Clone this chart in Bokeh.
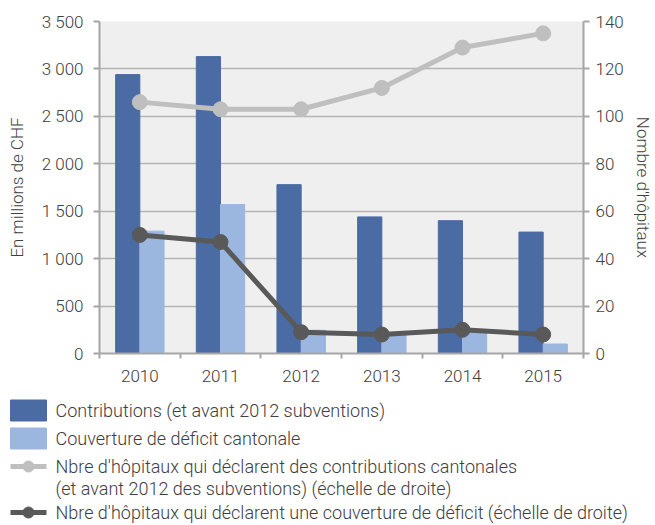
from bokeh.plotting import figure
from bokeh.models import Range1d, LinearAxis, FixedTicker
from bokeh.layouts import column
from bokeh.core.properties import value
from bokeh.embed import file_html
from bokeh.resources import INLINE

years = ["2010", "2011", "2012", "2013", "2014", "2015"]
contributions = [2940, 3130, 1780, 1440, 1400, 1280]
deficit_cover = [1290, 1570, 245, 220, 230, 100]
hosp_contrib = [106, 103, 103, 112, 129, 135]
hosp_deficit = [50, 47, 9, 8, 10, 8]
left_ticks = [0, 500, 1000, 1500, 2000, 2500, 3000, 3500]
left_tick_labels = ["0", "500", "1 000", "1 500", "2 000", "2 500", "3 000", "3 500"]
right_ticks = [0, 20, 40, 60, 80, 100, 120, 140]
legend_labels = [
    "Contributions (et avant 2012 subventions)",
    "Couverture de déficit cantonale",
    "Nbre d'hôpitaux qui déclarent des contributions cantonales",
    "(et avant 2012 des subventions) (échelle de droite)",
    "Nbre d'hôpitaux qui déclarent une couverture de déficit (échelle de droite)",
]

DARK = "#4a6ba3"
LIGHT = "#9bb7e0"
LGREY = "#bfbfbf"
DGREY = "#595959"
AXIS = "#a6a6a6"
TXT = "#404040"
FONT = "Roboto Light"

xs = [i + 0.5 for i in range(len(years))]

W, H1, H2 = 655, 388, 137

p = figure(width=W, height=H1, x_range=Range1d(0, len(years)), y_range=Range1d(0, 3500),
           output_backend="svg", toolbar_location=None,
           min_border_left=99, min_border_right=68, min_border_top=21, min_border_bottom=35,
           background_fill_color="#efefef", border_fill_color="white")
p.outline_line_color = None
p.frame_align = False
p.extra_y_ranges = {"right": Range1d(0, 140)}

p.xgrid.visible = False
p.ygrid.ticker = FixedTicker(ticks=left_ticks)
p.ygrid.grid_line_color = "#b5b5b5"
p.ygrid.grid_line_width = 1.5

p.vbar(x=[x - 0.15 for x in xs], top=contributions, width=0.3, color=DARK)
p.vbar(x=[x + 0.15 for x in xs], top=deficit_cover, width=0.3, color=LIGHT)
p.line(xs, hosp_contrib, y_range_name="right", line_width=5, color=LGREY)
p.scatter(xs, hosp_contrib, y_range_name="right", size=15, color=LGREY)
p.line(xs, hosp_deficit, y_range_name="right", line_width=5, color=DGREY)
p.scatter(xs, hosp_deficit, y_range_name="right", size=15, color=DGREY)

xa = p.xaxis[0]
xa.ticker = FixedTicker(ticks=xs, minor_ticks=list(range(len(years) + 1)))
xa.major_label_overrides = {x: y for x, y in zip(xs, years)}
xa.major_tick_line_color = None
xa.major_tick_out = 0
xa.major_tick_in = 0
xa.minor_tick_out = 5
xa.minor_tick_in = 0
xa.minor_tick_line_color = AXIS
xa.minor_tick_line_width = 2

ya = p.yaxis[0]
ya.ticker = FixedTicker(ticks=left_ticks)
ya.major_label_overrides = {t: l for t, l in zip(left_ticks, left_tick_labels)}
ya.axis_label = "En millions de CHF"

ra = LinearAxis(y_range_name="right", ticker=FixedTicker(ticks=right_ticks),
                axis_label="Nombre d'hôpitaux")
p.add_layout(ra, "right")

for ax in [xa, ya, ra]:
    ax.axis_line_color = AXIS
    ax.axis_line_width = 2
    ax.major_label_text_font = FONT
    ax.major_label_text_font_size = "17px"
    ax.major_label_text_color = TXT
    ax.axis_label_text_font = FONT
    ax.axis_label_text_font_size = "17px"
    ax.axis_label_text_color = TXT
    ax.axis_label_text_font_style = "normal"
for ax in [ya, ra]:
    ax.major_tick_line_color = AXIS
    ax.major_tick_line_width = 2
    ax.major_tick_out = 6
    ax.major_tick_in = 0
    ax.minor_tick_line_color = None
ya.major_label_standoff = 10
ya.axis_label_standoff = 12
ra.major_label_standoff = 6
ra.axis_label_standoff = 6
xa.major_label_standoff = 11

# Legend panel
lf = figure(width=W, height=H2, x_range=Range1d(0, W), y_range=Range1d(H2, 0),
            output_backend="svg", toolbar_location=None, min_border=0,
            border_fill_color="white", background_fill_color="white")
lf.frame_align = False
lf.outline_line_color = None
lf.axis.visible = False
lf.grid.visible = False

rows = [22, 50, 78, 100, 124]
lf.quad(left=[10], right=[46], top=[rows[0] - 10.5], bottom=[rows[0] + 10.5], color=DARK)
lf.quad(left=[10], right=[46], top=[rows[1] - 10.5], bottom=[rows[1] + 10.5], color=LIGHT)
lf.line([10, 46], [rows[2], rows[2]], line_width=5, color=LGREY)
lf.scatter([28], [rows[2]], size=11, color=LGREY)
lf.line([10, 46], [rows[4], rows[4]], line_width=5, color=DGREY)
lf.scatter([28], [rows[4]], size=11, color=DGREY)
lf.text(x=[55] * len(legend_labels), y=rows, text=legend_labels,
        text_baseline="middle", text_align="left",
        text_font=value(FONT), text_font_size="18px", text_color=TXT)

layout = column(p, lf, spacing=0)
open("out.html", "w").write(file_html(layout, INLINE))
